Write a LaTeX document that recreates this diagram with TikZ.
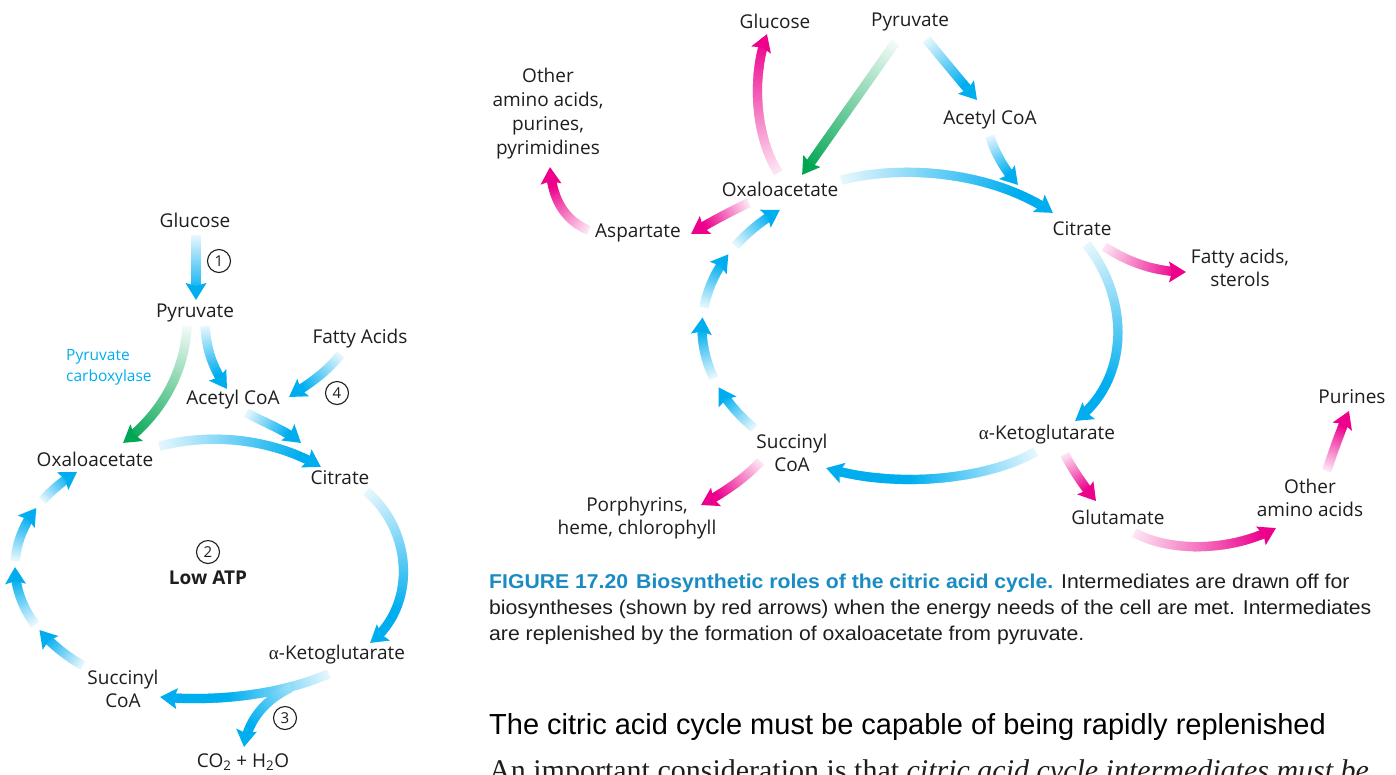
\documentclass[tikz,border=0pt]{standalone}
\usepackage{fontspec}
\setmainfont{Open Sans}
\newfontfamily\capfont[FakeStretch=1.06]{Liberation Sans}
\newfontfamily\headfont{Liberation Sans}
\newfontfamily\serfont{Liberation Serif}
\newfontfamily\symfont{Liberation Serif}
\usetikzlibrary{decorations.markings}
\definecolor{cyanA}{HTML}{00AEEF}
\definecolor{pinkA}{HTML}{EC008C}
\definecolor{greenA}{HTML}{00A651}
\definecolor{capblue}{HTML}{1A8BC3}
\definecolor{inkA}{HTML}{1E1E1E}
\def\gcol{cyanA}\def\gst{10}\def\gfull{0.75}\def\gbw{4.6}\def\gah{10.5}\def\gal{17}
\newcommand\gpiece{%
  \pgfmathsetmacro\gd{\pgfkeysvalueof{/pgf/decoration/mark info/distance from start}}%
  \pgfmathsetmacro\gl{\pgfdecoratedpathlength}%
  \pgfmathsetmacro\gcut{\gl-0.8*\gal}%
  \ifdim\gd pt<\gcut pt
    \pgfmathtruncatemacro\gpct{min(100,\gst+(100-\gst)*(\gd/\gl)/\gfull)}%
    \fill[color=\gcol!\gpct!white] (-0.8pt,-\gbw pt) rectangle (0.8pt,\gbw pt);%
  \fi}
\newcommand\ghead{%
  \fill[color=\gcol] (0pt,0pt) -- (-\gal pt,\gah pt) -- (-0.82*\gal pt,0pt) -- (-\gal pt,-\gah pt) -- cycle;}
\tikzset{
  gcolor/.code={\def\gcol{#1}},
  gstart/.code={\def\gst{#1}},
  gfullat/.code={\def\gfull{#1}},
  ga/.style={
    postaction={decorate, decoration={markings,
      mark=between positions 0 and 1 step 1pt with {\gpiece}}},
    postaction={decorate, decoration={markings,
      mark=at position 0.999 with {\ghead}}}},
  cy/.style={ga, gcolor=cyanA},
  pk/.style={ga, gcolor=pinkA},
  gn/.style={ga, gcolor=greenA, gstart=5, gfullat=0.95},
  lbl/.style={font=\fontsize{19}{23}\selectfont, text=inkA, inner sep=0pt, align=center},
  num/.style={draw=inkA, circle, line width=1.1pt, minimum size=23pt, inner sep=0pt,
      font=\fontsize{15}{15}\selectfont, text=inkA},
  captext/.style={anchor=base west, inner sep=0pt, text=inkA,
      font=\capfont\fontsize{20}{26}\selectfont}
}
\begin{document}
\begin{tikzpicture}[x=1pt,y=-1pt]
\clip (0,0) rectangle (1396,774);
\fill[white] (0,0) rectangle (1396,774);

% ---------------- left diagram: labels ----------------
\node[lbl] (lglu) at (195,220) {Glucose};
\node[num] (n1) at (219,261) {1};
\node[lbl] (lpyr) at (195,313) {Pyruvate};
\node[lbl, anchor=west, align=left, text=cyanA, font=\fontsize{15.5}{21}\selectfont] (lpc) at (66,367) {Pyruvate\\carboxylase};
\node[lbl] (lfat) at (360,339) {Fatty Acids};
\node[num] (n4) at (337,393) {4};
\node[lbl] (lace) at (233,400) {Acetyl CoA};
\node[lbl] (loaa) at (95,459) {Oxaloacetate};
\node[lbl] (lcit) at (340,478) {Citrate};
\node[num] (n2) at (208,552) {2};
\node[lbl, font=\bfseries\fontsize{19}{23}\selectfont] (latp) at (208,578) {Low ATP};
\node[lbl] (lakg) at (337,655) {{\symfont α}-Ketoglutarate};
\node[lbl] (lsuc) at (123,689) {Succinyl\\CoA};
\node[num] (n3) at (285,718) {3};
\node[lbl] (lco2) at (243,762) {CO\textsubscript{2} + H\textsubscript{2}O};

% ---------------- left diagram: arrows ----------------
\path[cy, gfullat=0.9] (196,236) -- (196,300);
\path[gn] (187,327) .. controls (184,375) and (160,415) .. (123,443);
\path[cy] (205,327) .. controls (207,352) and (213,368) .. (227,389);
\path[cy] (340,355) .. controls (325,374) and (307,385) .. (289,397);
\path[cy] (247,413) .. controls (265,423) and (285,430) .. (301,443);
\path[cy, gfullat=0.85] (160,446) .. controls (215,432) and (275,440) .. (321,467);
\path[cy] (367,492) .. controls (412,530) and (418,605) .. (370,643);
\path[cy, gfullat=0.6] (328,674) .. controls (280,695) and (215,702) .. (160,697);
\path[cy, gstart=40, gfullat=0.7] (290,688) .. controls (265,700) and (248,720) .. (244,747);
\path[cy, gfullat=0.8] plot[domain=131:151, samples=12] ({210+195*cos(\x)},{567+130*sin(\x)});
\path[cy, gfullat=0.8] plot[domain=154:180, samples=12] ({210+195*cos(\x)},{567+130*sin(\x)});
\path[cy, gfullat=0.8] plot[domain=183:207, samples=12] ({210+195*cos(\x)},{567+130*sin(\x)});
\path[cy, gfullat=0.8] plot[domain=211:227, samples=12] ({210+195*cos(\x)},{567+130*sin(\x)});

% ---------------- right diagram: labels ----------------
\node[lbl] (rglu) at (775,21) {Glucose};
\node[lbl] (rpyr) at (910,22) {Pyruvate};
\node[lbl, font=\fontsize{19}{24}\selectfont] (roth1) at (548,114) {Other\\amino acids,\\purines,\\pyrimidines};
\node[lbl] (race) at (990,120) {Acetyl CoA};
\node[lbl] (roaa) at (780,189) {Oxaloacetate};
\node[lbl] (rasp) at (638,233) {Aspartate};
\node[lbl] (rcit) at (1082,229) {Citrate};
\node[lbl] (rfat) at (1240,268) {Fatty acids,\\sterols};
\node[lbl] (rsuc) at (792,453) {Succinyl\\CoA};
\node[lbl] (rakg) at (1047,435) {{\symfont α}-Ketoglutarate};
\node[lbl] (rpor) at (637,518) {Porphyrins,\\heme, chlorophyll};
\node[lbl] (rglt) at (1118,517) {Glutamate};
\node[lbl] (roth2) at (1310,498) {Other\\amino acids};
\node[lbl] (rpur) at (1352,397) {Purines};

% ---------------- right diagram: arrows ----------------
\path[gn] (895,43) -- (802,175);
\path[pk, gfullat=0.95] (778,172) .. controls (757,140) and (750,80) .. (767,34);
\path[cy] (927,40) .. controls (945,62) and (960,80) .. (977,100);
\path[cy] (990,137) .. controls (996,155) and (1005,170) .. (1018,185);
\path[cy, gfullat=0.8] (842,180) .. controls (900,165) and (990,170) .. (1053,213);
\path[pk, gfullat=0.9] (1105,247) .. controls (1128,262) and (1155,272) .. (1186,272);
\path[cy] (1087,245) .. controls (1130,300) and (1130,380) .. (1075,421);
\path[pk] (1065,455) .. controls (1073,470) and (1083,485) .. (1096,501);
\path[pk, gfullat=0.9] (1135,533) .. controls (1170,552) and (1230,552) .. (1276,528);
\path[pk] (1327,470) .. controls (1333,452) and (1340,432) .. (1349,411);
\path[cy, gfullat=0.6] (1035,452) .. controls (990,478) and (900,490) .. (826,468);
\path[pk] (760,462) .. controls (745,478) and (725,492) .. (701,505);
\path[pk] (748,203) .. controls (730,212) and (710,222) .. (691,234);
\path[pk] (588,230) .. controls (565,220) and (552,200) .. (550,167);
\path[cy, gfullat=0.8] plot[domain=139:157, samples=12] ({912+210*cos(\x)},{328+152*sin(\x)});
\path[cy, gfullat=0.8] plot[domain=161:184, samples=12] ({912+210*cos(\x)},{328+152*sin(\x)});
\path[cy, gfullat=0.8] plot[domain=188:209, samples=12] ({912+210*cos(\x)},{328+152*sin(\x)});
\path[cy, gfullat=0.8] plot[domain=213:231, samples=12] ({912+210*cos(\x)},{328+152*sin(\x)});

% ---------------- caption and text ----------------
\node[captext] (cap1) at (489,588) {{\bfseries\color{capblue}FIGURE 17.20\hspace{0.4em}Biosynthetic roles of the citric acid cycle.} Intermediates are drawn off for};
\node[captext] (cap2) at (489,614) {biosyntheses (shown by red arrows) when the energy needs of the cell are met. Intermediates};
\node[captext] (cap3) at (489,640) {are replenished by the formation of oxaloacetate from pyruvate.};
\node[anchor=base west, inner sep=0pt, text=black, font=\headfont\fontsize{29}{32}\selectfont] (head) at (489,734) {The citric acid cycle must be capable of being rapidly replenished};
\node[anchor=base west, inner sep=0pt, text=inkA, font=\serfont\fontsize{30}{34}\selectfont] (body) at (489,780) {An important consideration is that \textit{citric acid cycle intermediates must be}};
\end{tikzpicture}
\end{document}
